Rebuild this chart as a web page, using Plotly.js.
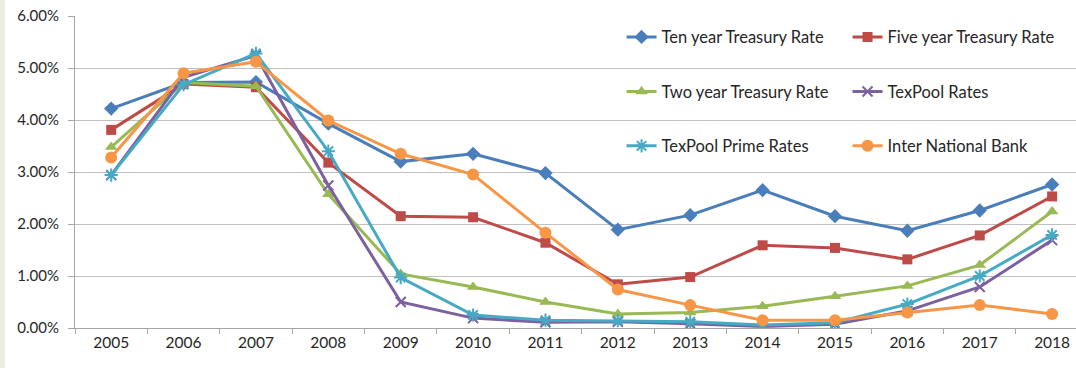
<!DOCTYPE html>
<html>
<head>
<meta charset="utf-8">
<script src="https://cdn.plot.ly/plotly-3.0.1.min.js"></script>
<style>
  html, body { margin: 0; padding: 0; background: #EEEDE2; width: 1076px; height: 368px; overflow: hidden; }
  #chart { position: absolute; left: 5px; top: 0; width: 1071px; height: 368px; background: #fff; }
</style>
</head>
<body>
<div id="chart"></div>
<script>
const years = ['2005','2006','2007','2008','2009','2010','2011','2012','2013','2014','2015','2016','2017','2018'];

const tenYear      = [4.22, 4.72, 4.73, 3.93, 3.20, 3.35, 2.98, 1.89, 2.17, 2.65, 2.15, 1.87, 2.26, 2.76];
const fiveYear     = [3.81, 4.69, 4.63, 3.18, 2.15, 2.13, 1.64, 0.84, 0.98, 1.59, 1.54, 1.32, 1.78, 2.53];
const twoYear      = [3.48, 4.72, 4.65, 2.57, 1.04, 0.79, 0.50, 0.27, 0.30, 0.42, 0.61, 0.81, 1.21, 2.24];
const texPool      = [2.94, 4.82, 5.24, 2.74, 0.50, 0.19, 0.11, 0.12, 0.08, 0.03, 0.07, 0.33, 0.79, 1.69];
const texPoolPrime = [2.94, 4.68, 5.28, 3.40, 0.97, 0.25, 0.15, 0.14, 0.12, 0.06, 0.10, 0.46, 1.00, 1.79];
const interNatl    = [3.28, 4.90, 5.12, 3.99, 3.35, 2.95, 1.83, 0.74, 0.44, 0.15, 0.15, 0.30, 0.44, 0.27];

const seriesNames = ['Ten year Treasury Rate', 'Five year Treasury Rate', 'Two year Treasury Rate',
                     'TexPool Rates', 'TexPool Prime Rates', 'Inter National Bank'];

const styles = [
  {color: '#4A7EBB', symbol: 'diamond', size: 11},
  {color: '#BE4B48', symbol: 'square', size: 10},
  {color: '#98B954', symbol: 'triangle-up', size: 11},
  {color: '#7D60A0', symbol: 'x-thin-open', size: 10},
  {color: '#46AAC5', symbol: 'asterisk-open', size: 11},
  {color: '#F79646', symbol: 'circle', size: 12}
];
const legendIds = ['legend', 'legend', 'legend2', 'legend2', 'legend3', 'legend3'];
const data = [tenYear, fiveYear, twoYear, texPool, texPoolPrime, interNatl];

const traces = data.map((vals, i) => ({
  type: 'scatter',
  mode: 'lines+markers',
  x: years,
  y: vals,
  name: seriesNames[i],
  legend: legendIds[i],
  line: {color: styles[i].color, width: 3},
  marker: {
    symbol: styles[i].symbol,
    size: styles[i].size,
    color: styles[i].color,
    line: {color: styles[i].color, width: (styles[i].symbol.indexOf('open') >= 0) ? 2 : 0}
  },
  hoverinfo: 'x+y+name'
}));

const fam = 'Lato, "Open Sans", sans-serif';
const legendBase = {
  orientation: 'h',
  xanchor: 'left',
  yanchor: 'middle',
  x: 0.546,
  entrywidth: 181,
  entrywidthmode: 'pixels',
  bgcolor: 'rgba(0,0,0,0)',
  borderwidth: 0,
  font: {family: fam, size: 16.5, color: '#262626'},
  itemwidth: 30
};

const layout = {
  width: 1071,
  height: 368,
  margin: {l: 70, r: 0, t: 16, b: 40, autoexpand: false},
  paper_bgcolor: '#ffffff',
  plot_bgcolor: '#ffffff',
  font: {family: fam, size: 15, color: '#262626'},
  showlegend: true,
  legend:  Object.assign({}, legendBase, {y: 0.932}),
  legend2: Object.assign({}, legendBase, {y: 0.757}),
  legend3: Object.assign({}, legendBase, {y: 0.583}),
  xaxis: {
    type: 'category',
    range: [-0.5, 13.33],
    tickson: 'boundaries',
    ticks: 'outside',
    ticklen: 5,
    tickcolor: '#A6A6A6',
    showline: true,
    linecolor: '#A6A6A6',
    linewidth: 1,
    showgrid: false,
    zeroline: false,
    automargin: false,
    tickfont: {family: fam, size: 15.5, color: '#262626'},
    fixedrange: true
  },
  yaxis: {
    range: [0, 6],
    dtick: 1,
    tick0: 0,
    tickformat: '.2f',
    ticksuffix: '%',
    ticks: 'outside',
    ticklen: 6,
    tickcolor: '#A6A6A6',
    showline: true,
    linecolor: '#A6A6A6',
    linewidth: 1,
    showgrid: true,
    gridcolor: '#C0C0C0',
    gridwidth: 1,
    zeroline: false,
    automargin: false,
    tickfont: {family: fam, size: 15, color: '#262626'},
    ticklabelstandoff: 6,
    fixedrange: true
  }
};

Plotly.newPlot('chart', traces, layout, {displayModeBar: false, staticPlot: true});
</script>
</body>
</html>
